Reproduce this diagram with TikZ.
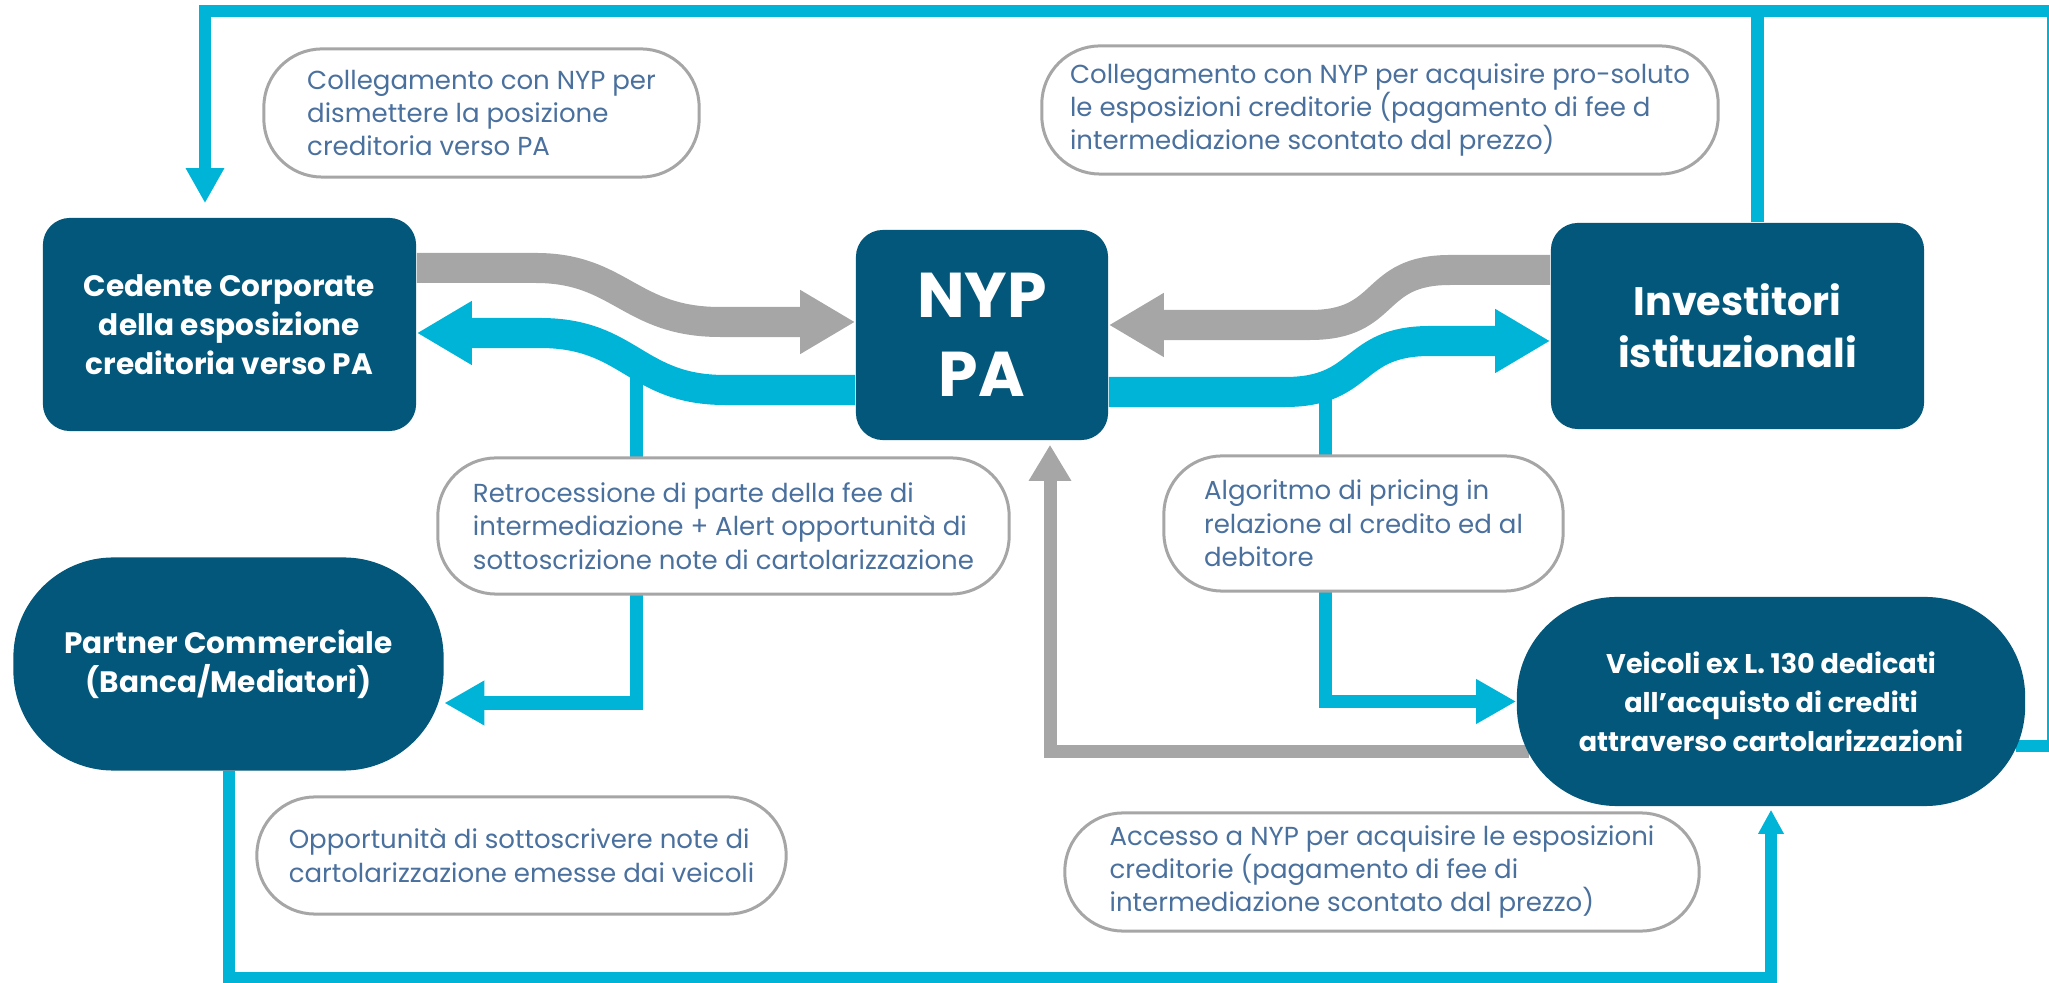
\documentclass[tikz,border=0pt]{standalone}
\usepackage{fontspec}
\setmainfont{Poppins}
\usepackage{tikz}
\usetikzlibrary{calc,arrows.meta}
\definecolor{nypblue}{RGB}{3,87,122}
\definecolor{nypcyan}{RGB}{0,180,216}
\definecolor{nypgray}{RGB}{166,166,166}
\definecolor{notetext}{RGB}{74,112,158}
\pgfdeclarelayer{bg}
\pgfsetlayers{bg,main}
\tikzstyle{entity} = [rectangle, fill=nypblue, text=white, rounded corners=0.27cm, inner sep=0pt, align=center, font=\bfseries\fontsize{8.4}{11.1}\selectfont]
\tikzstyle{stadium} = [entity, rounded corners=1cm]
\tikzstyle{bubble} = [rectangle, draw=nypgray, line width=0.03cm, fill=white, rounded corners=0.58cm, text=notetext, align=left, inner sep=0pt, font=\fontsize{7.4}{9.5}\selectfont]
\tikzstyle{band} = [line width=0.3cm, -{Triangle[length=0.55cm,width=0.6cm]}]
\tikzstyle{flow} = [draw=nypcyan, line width=0.13cm, -{Triangle[length=0.4cm,width=0.42cm]}]
\tikzstyle{back} = [draw=nypgray, line width=0.13cm, -{Triangle[length=0.36cm,width=0.4cm]}]

\begin{document}
\begin{tikzpicture}[x=0.01cm, y=-0.01cm]

    \useasboundingbox (0,0) rectangle (2049,983);

    %% soggetti

    \node (cedente) [entity, minimum width=3.73cm, minimum height=2.13cm] at (229.5,324.5) {Cedente Corporate\\della esposizione\\creditoria verso PA};
    \node (nyp) [entity, minimum width=2.52cm, minimum height=2.10cm, font=\bfseries\fontsize{18}{22.4}\selectfont] at (982,335) {NYP\\PA};
    \node (invest) [entity, minimum width=3.73cm, minimum height=2.06cm, font=\bfseries\fontsize{11.3}{14.8}\selectfont] at (1737.5,326) {Investitori\\istituzionali};
    \node (partner) [stadium, minimum width=4.30cm, minimum height=2.13cm] at (228.5,664) {Partner Commerciale\\(Banca/Mediatori)};
    \node (veicoli) [stadium, minimum width=5.08cm, minimum height=2.09cm, font=\bfseries\fontsize{7.7}{11.1}\selectfont] at (1771,701.5) {Veicoli ex L. 130 dedicati\\all’acquisto di crediti\\attraverso cartolarizzazioni};

    %% flussi

    \coordinate (lsplit) at (636,372);
    \coordinate (rsplit) at (1325,388);
    \coordinate (iup) at ($(invest.north)+(20,0)$);

    \begin{pgfonlayer}{bg}
        \draw [flow] (lsplit) |- ($(partner.east)+(0,39)$);
        \draw [flow] (rsplit) |- (veicoli.west);
        \draw [back] ($(veicoli.west)+(13,50)$) -| ($(nyp.south)+(68,4)$);
        \draw [flow, -] (iup) -- (iup |- 0,11.5);
        \draw [flow, line width=0.12cm, -{Triangle[length=0.35cm,width=0.36cm]}] ($(veicoli.east)+(-10,44.5)$) -- (2053,746) |- (205,11.5) -- ($(cedente.north)+(-24.5,-14)$);
        \draw [flow, line width=0.12cm, -{Triangle[length=0.24cm,width=0.24cm]}] (partner.south) -- (partner.south |- 0,978) -| ($(veicoli.south)+(0,3)$);

        \draw [band, nypgray] (cedente.east |- 0,268) -- (536,268) .. controls (620,268) and (630,322) .. (720,322) -- (nyp.west |- 0,322);
        \draw [band, nypcyan] (nyp.west |- 0,390) -- (725,390) .. controls (635,390) and (630,333) .. (540,333) -- (cedente.east |- 0,333);
        \draw [band, nypgray] (invest.west |- 0,270) -- (1450,270) .. controls (1370,270) and (1390,325) .. (1310,325) -- (nyp.east |- 0,325);
        \draw [band, nypcyan] (nyp.east |- 0,392) -- (1285,392) .. controls (1365,392) and (1350,341) .. (1430,341) -- (invest.west |- 0,341);
    \end{pgfonlayer}

    %% note

    \node (note1) [bubble, minimum width=4.35cm, minimum height=1.28cm] at (481.5,113) {Collegamento con NYP per\\dismettere la posizione\\creditoria verso PA};
    \node (note2) [bubble, minimum width=6.76cm, minimum height=1.28cm] at (1380,110) {Collegamento con NYP per acquisire pro-soluto\\le esposizioni creditorie (pagamento di fee d\\intermediazione scontato dal prezzo)};
    \node (note3) [bubble, minimum width=5.71cm, minimum height=1.36cm] at (723.5,526) {Retrocessione di parte della fee di\\intermediazione + Alert opportunità di\\sottoscrizione note di cartolarizzazione};
    \node (note4) [bubble, minimum width=3.99cm, minimum height=1.35cm] at (1363.5,523.5) {Algoritmo di pricing in\\relazione al credito ed al\\debitore};
    \node (note5) [bubble, minimum width=5.29cm, minimum height=1.17cm] at (521.5,855.5) {Opportunità di sottoscrivere note di\\cartolarizzazione emesse dai veicoli};
    \node (note6) [bubble, minimum width=6.34cm, minimum height=1.18cm] at (1382,872) {Accesso a NYP per acquisire le esposizioni\\creditorie (pagamento di fee di\\intermediazione scontato dal prezzo)};

\end{tikzpicture}
\end{document}
